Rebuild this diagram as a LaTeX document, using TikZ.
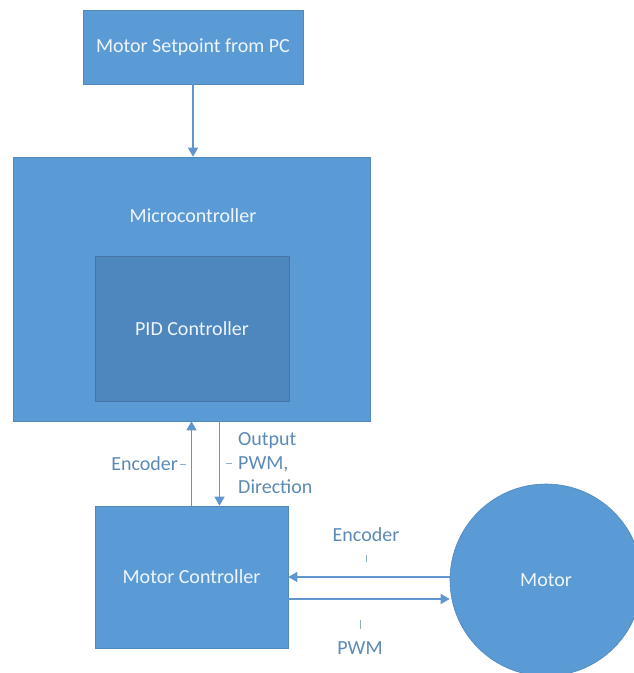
\documentclass[tikz,border=0pt]{standalone}
\usepackage{fontspec}
\setmainfont{Carlito}
\usetikzlibrary{calc, positioning}
\usetikzlibrary{arrows.meta}
\definecolor{boxblue}{RGB}{91,155,213}
\definecolor{pidblue}{RGB}{78,134,190}
\definecolor{linkblue}{RGB}{95,150,205}
\definecolor{labelblue}{RGB}{92,138,182}

\begin{document}
\begin{tikzpicture}[x=1pt,y=-1pt,
  block/.style={draw=boxblue!88!black, line width=0.6pt, fill=boxblue, text=white!90!boxblue, font=\fontsize{20}{24}\selectfont, inner sep=0pt},
  link/.style={draw=linkblue, line width=1.3pt, -{Triangle[width=10pt,length=9pt]}},
  tag/.style={text=labelblue, font=\fontsize{20}{24}\selectfont, inner sep=0pt},
  tick/.style={draw=labelblue!70, line width=0.7pt}]
\useasboundingbox (0,0) rectangle (633,673);

\node[block, minimum width=220, minimum height=74] (setpoint) at (193,47) {Motor Setpoint from PC};
\node[block, minimum width=357, minimum height=264] (micro) at (191.5,289) {};
\node[tag, text=white!90!boxblue] (microlabel) at (193,216) {Microcontroller};
\node[block, fill=pidblue, draw=pidblue!88!black, minimum width=194, minimum height=145] (pid) at (192,328.5) {PID Controller};
\node[block, minimum width=193, minimum height=142] (mc) at (191.5,577) {Motor Controller};
\node[block, circle, minimum size=192] (motor) at (546,580) {Motor};

\draw[link] (setpoint.south) -- (setpoint.south |- micro.north);
\draw[link] (mc.north) -- (micro.south);
\draw[link] ([xshift=28]micro.south) -- ([xshift=28]mc.north);
\draw[link] (mc.east -| motor.west) -- (mc.east);
\draw[link] ([yshift=-22]mc.east) -- ([yshift=-22]mc.east -| motor.west);

\node[tag, anchor=east] (upenc) at (178,464) {Encoder};
\draw[tick] ([xshift=2]upenc.east) -- ++(6,0);
\node[tag, anchor=west, align=left] (downout) at (238,463) {Output\\PWM,\\Direction};
\draw[tick] ([xshift=-6]downout.west) -- ++(-6,0);
\node[tag] (motenc) at (366,535) {Encoder};
\draw[tick] ([yshift=-13]motenc.south) -- ++(0,7);
\node[tag] (motpwm) at (360,648) {PWM};
\draw[tick] ([yshift=12]motpwm.north) -- ++(0,-9);
\end{tikzpicture}
\end{document}
